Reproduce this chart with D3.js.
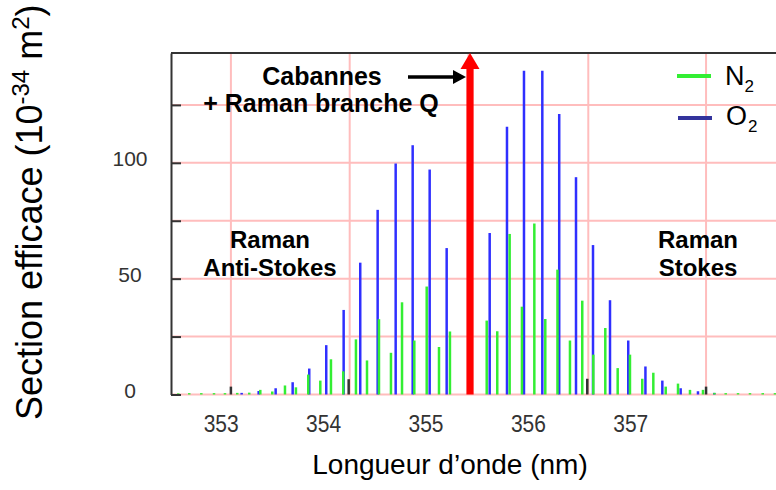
<!DOCTYPE html>
<html><head><meta charset="utf-8">
<script src="https://cdn.jsdelivr.net/npm/d3@7"></script>
<style>html,body{margin:0;padding:0;background:#fff;}svg{display:block;}</style>
</head><body>
<svg id="chart" width="776" height="490"></svg>
<script>
// ---- data ----
const xTickLabels = [353, 354, 355, 356, 357];
const yTickValues = [0, 25, 50, 75, 100, 125];
const yGridValues = [0, 25, 50, 75, 100, 125];
const xGridNm = [353.10, 354.26, 355.42, 356.59, 357.74];

const n2Nm = [352.586,352.693,352.811,352.935,353.042,353.162,353.279,353.387,353.504,353.628,353.735,353.855,353.973,354.077,354.197,354.321,354.429,354.546,354.663,354.771,354.891,355.012,355.132,355.239,
  355.598,355.701,355.822,355.942,356.063,356.170,356.289,356.411,356.531,356.639,356.756,356.877,356.997,357.117,357.225,357.346,357.466,357.583,357.710,357.822,357.932,358.052,358.169,358.293,358.413];
const n2Val = [0.5,0.6,0.6,0.6,0.6,0.7,0.8,2.0,1.3,3.9,3.1,8.6,6.0,15.2,10.0,23.8,14.7,32.5,18.0,39.8,23.3,46.6,20.5,27.2,
  31.9,27.3,69.3,37.9,73.8,32.6,53.9,23.3,40.5,17.2,28.7,11.4,17.2,6.8,9.4,3.4,4.7,2.0,2.0,0.7,0.6,0.6,0.6,0.6,0.6];

const o2Nm = [353.205,353.371,353.537,353.703,353.865,354.031,354.201,354.363,354.533,354.709,354.875,355.041,355.207,
  355.627,355.796,355.962,356.141,356.306,356.470,356.636,356.802,356.980,357.148,357.313,357.492,357.661,357.820];
const o2Val = [0.7,1.5,2.7,5.3,11.2,21.3,36.5,56.9,79.7,99.7,107.6,97.1,63.2,
  69.7,115.6,139.7,139.7,121.1,93.8,64.5,40.7,23.3,12.1,6.0,2.7,1.4,0.7];

const markerNm = [353.10, 354.25, 356.58, 357.74];
const markerVal = [3.4, 6.6, 6.8, 3.4];

const cabannesNm = 355.435;
const cabannesVal = 147.4;

// ---- chart ----
const svg = d3.select("#chart");
const x = d3.scaleLinear().domain([352.515, 358.423]).range([171, 776]);
const y = d3.scaleLinear().domain([0, 147.4]).range([394.5, 53]);
const FONT = "'Liberation Sans', Arial, Helvetica, sans-serif";
const grid = "#ffbdbd";

// grid
svg.append("g").selectAll("line").data(yGridValues).join("line")
  .attr("x1", x.range()[0]).attr("x2", x.range()[1])
  .attr("y1", d => y(d)).attr("y2", d => y(d))
  .attr("stroke", grid).attr("stroke-width", 2);
svg.append("g").selectAll("line").data(xGridNm).join("line")
  .attr("x1", d => x(d)).attr("x2", d => x(d))
  .attr("y1", y(0)).attr("y2", y.range()[1])
  .attr("stroke", grid).attr("stroke-width", 2);

// top border
svg.append("line").attr("x1", x.range()[0]).attr("x2", x.range()[1])
  .attr("y1", y(147.4)).attr("y2", y(147.4)).attr("stroke", "#333").attr("stroke-width", 2);

// bars
const bars = svg.append("g");
bars.selectAll("line.o2").data(o2Nm.map((n,i)=>({n, v:o2Val[i]}))).join("line")
  .attr("class","o2")
  .attr("x1", d=>x(d.n)).attr("x2", d=>x(d.n))
  .attr("y1", y(0)).attr("y2", d=>Math.min(y(d.v), y(0)-1))
  .attr("stroke", "#2f2fff").attr("stroke-width", 2.5);
bars.selectAll("line.n2").data(n2Nm.map((n,i)=>({n, v:n2Val[i]}))).join("line")
  .attr("class","n2")
  .attr("x1", d=>x(d.n)).attr("x2", d=>x(d.n))
  .attr("y1", y(0)).attr("y2", d=>Math.min(y(d.v), y(0)-1))
  .attr("stroke", "#33ee33").attr("stroke-width", 2.5);
bars.selectAll("line.mk").data(markerNm.map((n,i)=>({n, v:markerVal[i]}))).join("line")
  .attr("class","mk")
  .attr("x1", d=>x(d.n)).attr("x2", d=>x(d.n))
  .attr("y1", y(0)).attr("y2", d=>y(d.v))
  .attr("stroke", "#333").attr("stroke-width", 2.5);

// y axis
const yAxis = d3.axisLeft(y).tickValues(yTickValues).tickSize(-10).tickSizeOuter(0)
  .tickFormat(d => d % 50 === 0 ? d : "");
const ya = svg.append("g").attr("transform", "translate(171,0)").call(yAxis);
ya.select(".domain").attr("stroke", "#333").attr("stroke-width", 2);
ya.selectAll(".tick line").attr("stroke", "#333").attr("stroke-width", 2);
ya.selectAll(".tick text").attr("x", -41).attr("dy", "0.15em").attr("text-anchor", "middle")
  .attr("font-family", FONT).attr("font-size", 21).attr("fill", "#333");

// x axis (labels only)
const xAxis = d3.axisBottom(x).tickValues(xTickLabels).tickSize(0).tickFormat(d3.format("d"));
const xa = svg.append("g").attr("transform", `translate(0,${y(0)})`).call(xAxis);
xa.select(".domain").remove();
xa.selectAll(".tick text").attr("y", 32).attr("dy", 0)
  .attr("transform", "scale(1,1.18)")
  .attr("font-family", FONT).attr("font-size", 21).attr("fill", "#333");

// Cabannes red arrow
const cx = x(cabannesNm), arrowTop = y(cabannesVal);
svg.append("rect").attr("x", cx - 3.6).attr("width", 7.2)
  .attr("y", arrowTop + 15).attr("height", y(0) - arrowTop - 15).attr("fill", "#ff0000");
svg.append("path").attr("d", `M${cx-9.5},${arrowTop+16} L${cx},${arrowTop} L${cx+9.5},${arrowTop+16} Z`).attr("fill", "#ff0000");

// black arrow
svg.append("line").attr("x1", 408).attr("x2", 455).attr("y1", 77).attr("y2", 77)
  .attr("stroke", "#000").attr("stroke-width", 3.5);
svg.append("path").attr("d", "M453,70 L466,77 L453,84 Z").attr("fill", "#000");

// annotations
function label(txt, xx, yy, opts = {}) {
  return svg.append("text").attr("x", xx).attr("y", yy).text(txt)
    .attr("font-family", FONT).attr("font-weight", opts.weight || "bold")
    .attr("font-size", opts.size || 24).attr("text-anchor", opts.anchor || "middle").attr("fill", "#000");
}
label("Cabannes", 322, 85, {size: 25});
label("+ Raman branche Q", 321, 112, {size: 25});
label("Raman", 270, 248);
label("Anti-Stokes", 270, 276);
label("Raman", 698, 248);
label("Stokes", 698, 276);

// legend
svg.append("line").attr("x1", 677).attr("x2", 711).attr("y1", 76).attr("y2", 76)
  .attr("stroke", "#33ee33").attr("stroke-width", 4);
svg.append("line").attr("x1", 678).attr("x2", 712).attr("y1", 118).attr("y2", 118)
  .attr("stroke", "#33339c").attr("stroke-width", 4);
const l1 = svg.append("text").attr("x", 725).attr("y", 85).attr("font-family", FONT).attr("font-size", 27).attr("fill", "#000");
l1.append("tspan").text("N");
l1.append("tspan").text("2").attr("font-size", 17).attr("dy", 7);
const l2 = svg.append("text").attr("x", 726).attr("y", 125).attr("font-family", FONT).attr("font-size", 27).attr("fill", "#000");
l2.append("tspan").text("O");
l2.append("tspan").text("2").attr("font-size", 17).attr("dy", 7).attr("dx", 1);

// axis titles
svg.append("text").attr("x", 450).attr("y", 474).attr("text-anchor", "middle")
  .attr("font-family", FONT).attr("font-size", 28).attr("fill", "#000")
  .text("Longueur d’onde (nm)");
const yt = svg.append("text").attr("transform", "translate(42,420) rotate(-90)")
  .attr("font-family", FONT).attr("font-size", 36).attr("fill", "#000");
yt.append("tspan").text("Section efficace (10");
yt.append("tspan").text("-34").attr("font-size", 24).attr("dy", -13);
yt.append("tspan").text(" m").attr("dy", 13);
yt.append("tspan").text("2").attr("font-size", 24).attr("dy", -13);
yt.append("tspan").text(")").attr("dy", 13);
</script>
</body></html>
